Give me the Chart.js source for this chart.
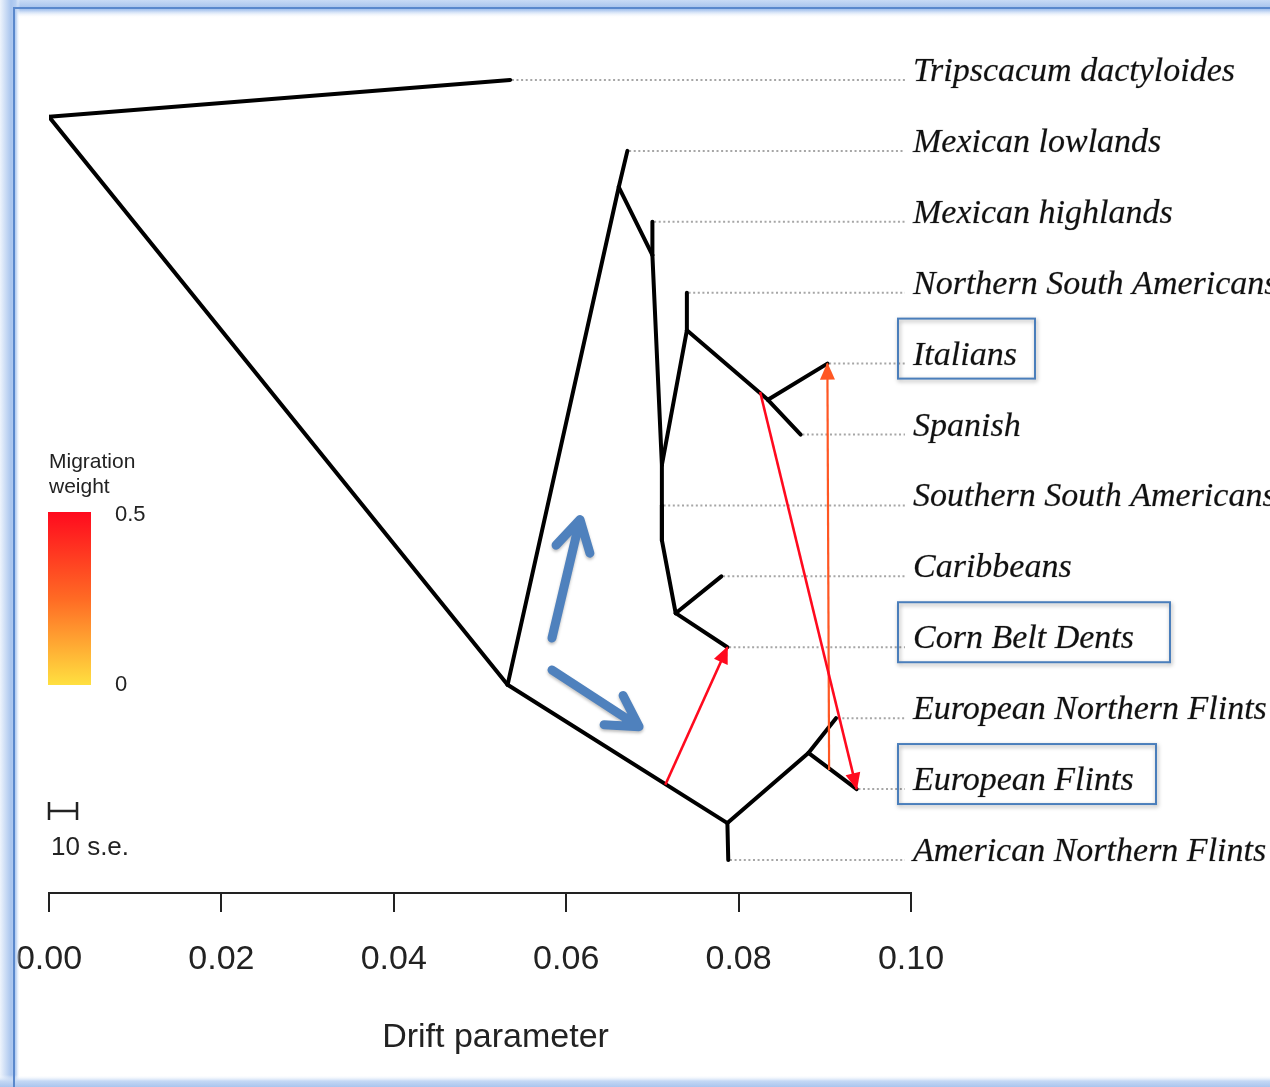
<!DOCTYPE html>
<html>
<head>
<meta charset="utf-8">
<title>TreeMix drift tree</title>
<script src="https://cdn.jsdelivr.net/npm/chart.js@4.4.1/dist/chart.umd.min.js"></script>
<style>
  html, body { margin: 0; padding: 0; background: #fff; }
  #wrap { width: 1270px; height: 1087px; position: relative; }
</style>
</head>
<body>
<div id="wrap"><canvas id="tree" width="1270" height="1087"></canvas></div>
<script>
// leaves, top to bottom; the row index is the vertical position in the tree
const leafNames = [
    'Tripscacum dactyloides', 'Mexican lowlands', 'Mexican highlands',
    'Northern South Americans', 'Italians', 'Spanish', 'Southern South Americans',
    'Caribbeans', 'Corn Belt Dents', 'European Northern Flints',
    'European Flints', 'American Northern Flints'
];
const leafDrift = [0.0535, 0.0671, 0.0700, 0.0740, 0.0903, 0.0872, 0.0711, 0.0780, 0.0787, 0.0913, 0.0937, 0.0788];

// internal nodes (drift from root, row position)
const nodeNames = ['root', 'A', 'B', 'C', 'D', 'E', 'F', 'G', 'H', 'I', 'J'];
const nodeDrift = [0.0000, 0.0532, 0.0661, 0.0700, 0.0711, 0.0740, 0.0834, 0.0711, 0.0727, 0.0787, 0.0881];
const nodeRow   = [0.52,   8.53,   1.51,   2.47,   5.43,   3.53,   4.51,   6.49,   7.52,   10.48,  9.49];

// tree edges, parent -> child
const edgeFrom = ['root', 'root', 'A', 'B', 'B', 'C', 'C', 'D', 'E', 'E', 'F', 'F', 'D', 'G', 'G', 'H', 'H', 'A', 'I', 'I', 'J', 'J'];
const edgeTo = ['Tripscacum dactyloides', 'A', 'B', 'Mexican lowlands', 'C', 'Mexican highlands', 'D',
    'E', 'Northern South Americans', 'F', 'Italians', 'Spanish', 'G', 'Southern South Americans', 'H',
    'Caribbeans', 'Corn Belt Dents', 'I', 'American Northern Flints', 'J', 'European Northern Flints', 'European Flints'];

// migration edges: start point on an edge -> target leaf, with weight
const migFromDrift = [0.0715, 0.0825, 0.0905];
const migFromRow = [9.94, 4.40, 9.73];
const migTo = ['Corn Belt Dents', 'European Flints', 'Italians'];
const migWeight = [0.5, 0.5, 0.3];

// x axis
const xTicks = [0, 0.02, 0.04, 0.06, 0.08, 0.10];
const xTitle = 'Drift parameter';
const dotEnd = 0.0993;

// highlighted populations (blue boxes)
const boxed = ['Italians', 'Corn Belt Dents', 'European Flints'];
const boxWidth = [137, 272, 258];

// hand drawn blue arrows (drift, row)
const blueFrom = [[0.05835, 7.87], [0.05835, 8.32]];
const blueTo = [[0.0616, 6.20], [0.06845, 9.12]];

const scaleBarDrift = 0.00325; // 10 s.e.

const pos = {};
leafNames.forEach((n, i) => pos[n] = {x: leafDrift[i], y: i});
nodeNames.forEach((n, i) => pos[n] = {x: nodeDrift[i], y: nodeRow[i]});

// weight -> colour, same ramp as the legend bar
function weightColor(w) {
    const stops = [[0, [255, 224, 64]], [0.25, [255, 106, 36]], [0.5, [255, 10, 30]]];
    for (let i = 1; i < stops.length; i++) {
        if (w <= stops[i][0]) {
            const t = (w - stops[i - 1][0]) / (stops[i][0] - stops[i - 1][0]);
            const c = stops[i - 1][1].map((v, k) => Math.round(v + (stops[i][1][k] - v) * t));
            return `rgb(${c[0]},${c[1]},${c[2]})`;
        }
    }
    return 'rgb(255,10,30)';
}

const datasets = [];

// dotted leaders to the labels
leafNames.forEach((n, i) => {
    datasets.push({
        data: [{x: leafDrift[i] + 0.0002, y: i}, {x: dotEnd, y: i}],
        borderColor: '#a6a6a6', borderWidth: 2, borderDash: [2, 2.6],
        showLine: true, pointRadius: 0, order: 3
    });
});

// tree branches
edgeFrom.forEach((p, i) => {
    datasets.push({
        data: [pos[p], pos[edgeTo[i]]],
        borderColor: '#000', borderWidth: 4, borderCapStyle: 'round',
        showLine: true, pointRadius: 0, order: 2
    });
});

// migration edges
migTo.forEach((t, i) => {
    datasets.push({
        data: [{x: migFromDrift[i], y: migFromRow[i]}, pos[t]],
        borderColor: weightColor(migWeight[i]), borderWidth: migWeight[i] >= 0.5 ? 2.6 : 2.2,
        showLine: true, pointRadius: 0, order: 1
    });
});

function arrowHead(ctx, x0, y0, x1, y1, len, half, color) {
    const a = Math.atan2(y1 - y0, x1 - x0);
    ctx.save();
    ctx.translate(x1, y1);
    ctx.rotate(a);
    ctx.beginPath();
    ctx.moveTo(1, 0);
    ctx.lineTo(-len, -half);
    ctx.lineTo(-len, half);
    ctx.closePath();
    ctx.fillStyle = color;
    ctx.fill();
    ctx.restore();
}

const treeDecor = {
    id: 'treeDecor',
    afterDatasetsDraw(chart) {
        const {ctx, scales: {x, y}} = chart;

        // arrow heads on migration edges
        migTo.forEach((t, i) => {
            arrowHead(ctx,
                x.getPixelForValue(migFromDrift[i]), y.getPixelForValue(migFromRow[i]),
                x.getPixelForValue(pos[t].x), y.getPixelForValue(pos[t].y),
                16, 7.5, weightColor(migWeight[i]));
        });

        // leaf labels
        const lx = x.getPixelForValue(0.1) + 2;
        ctx.save();
        ctx.font = 'italic 34px "Liberation Serif", "DejaVu Serif", serif';
        ctx.textBaseline = 'alphabetic';
        ctx.textAlign = 'left';
        ctx.fillStyle = '#111';
        ctx.strokeStyle = 'rgba(17,17,17,0.35)';
        ctx.lineWidth = 0.6;
        leafNames.forEach((n, i) => {
            const ty = y.getPixelForValue(i) + 1;
            ctx.fillText(n, lx, ty);
            ctx.strokeText(n, lx, ty);
        });
        ctx.restore();

        // blue boxes round highlighted labels
        ctx.save();
        ctx.strokeStyle = '#4a7ebb';
        ctx.lineWidth = 2;
        ctx.shadowColor = 'rgba(0,0,0,0.35)';
        ctx.shadowBlur = 4;
        ctx.shadowOffsetX = 1;
        ctx.shadowOffsetY = 2;
        boxed.forEach((n, i) => {
            const ly = y.getPixelForValue(leafNames.indexOf(n));
            ctx.strokeRect(lx - 15, ly - 45, boxWidth[i], 60);
        });
        ctx.restore();

        // blue annotation arrows
        ctx.save();
        ctx.strokeStyle = '#4f81bd';
        ctx.lineWidth = 9;
        ctx.lineCap = 'round';
        ctx.lineJoin = 'round';
        ctx.shadowColor = 'rgba(0,0,0,0.25)';
        ctx.shadowBlur = 3;
        ctx.shadowOffsetY = 2;
        blueFrom.forEach((f, i) => {
            const x0 = x.getPixelForValue(f[0]), y0 = y.getPixelForValue(f[1]);
            const x1 = x.getPixelForValue(blueTo[i][0]), y1 = y.getPixelForValue(blueTo[i][1]);
            const a = Math.atan2(y1 - y0, x1 - x0);
            const arm = 35, spread = 0.52;
            ctx.beginPath();
            ctx.moveTo(x0, y0);
            ctx.lineTo(x1 - 4 * Math.cos(a), y1 - 4 * Math.sin(a));
            ctx.moveTo(x1 - arm * Math.cos(a - spread), y1 - arm * Math.sin(a - spread));
            ctx.lineTo(x1, y1);
            ctx.lineTo(x1 - arm * Math.cos(a + spread), y1 - arm * Math.sin(a + spread));
            ctx.stroke();
        });
        ctx.restore();

        // migration weight legend
        ctx.save();
        const grad = ctx.createLinearGradient(0, 512, 0, 685);
        grad.addColorStop(0, weightColor(0.5));
        grad.addColorStop(0.5, weightColor(0.25));
        grad.addColorStop(1, weightColor(0));
        ctx.fillStyle = grad;
        ctx.fillRect(48, 512, 43, 173);
        ctx.fillStyle = '#222';
        ctx.font = '21px "Liberation Sans", Arial, sans-serif';
        ctx.textBaseline = 'alphabetic';
        ctx.fillText('Migration', 49, 468);
        ctx.fillText('weight', 49, 493);
        ctx.font = '22px "Liberation Sans", Arial, sans-serif';
        ctx.textBaseline = 'middle';
        ctx.fillText('0.5', 115, 515);
        ctx.fillText('0', 115, 685);

        // scale bar
        const s0 = x.getPixelForValue(0), s1 = x.getPixelForValue(scaleBarDrift);
        ctx.strokeStyle = '#222';
        ctx.lineWidth = 2.5;
        ctx.beginPath();
        ctx.moveTo(s0, 811); ctx.lineTo(s1, 811);
        ctx.moveTo(s0, 802); ctx.lineTo(s0, 820);
        ctx.moveTo(s1, 802); ctx.lineTo(s1, 820);
        ctx.stroke();
        ctx.font = '26px "Liberation Sans", Arial, sans-serif';
        ctx.textBaseline = 'alphabetic';
        ctx.fillText('10 s.e.', 51, 855);

        // axis title (R centres it on the full plot region, a bit right of the axis middle)
        ctx.font = '34px "Liberation Sans", Arial, sans-serif';
        ctx.textAlign = 'center';
        ctx.textBaseline = 'middle';
        ctx.fillText(xTitle, x.getPixelForValue(0.0518), 1038);
        ctx.restore();
    },
    afterDraw(chart) {
        // window frame of the screenshot
        const {ctx} = chart;
        const W = chart.width, H = chart.height;
        ctx.save();
        let g = ctx.createLinearGradient(0, 0, 0, 18);
        g.addColorStop(0, '#c9dbf5');
        g.addColorStop(0.4, '#a9c5ee');
        g.addColorStop(0.55, '#a9c5ee');
        g.addColorStop(1, 'rgba(255,255,255,0)');
        ctx.fillStyle = g;
        ctx.fillRect(0, 0, W, 18);
        g = ctx.createLinearGradient(0, 0, 20, 0);
        g.addColorStop(0, '#eef4fc');
        g.addColorStop(0.55, '#a9c5ee');
        g.addColorStop(0.8, '#b8d0f2');
        g.addColorStop(1, 'rgba(255,255,255,0)');
        ctx.fillStyle = g;
        ctx.fillRect(0, 0, 20, H);
        g = ctx.createLinearGradient(0, H - 12, 0, H);
        g.addColorStop(0, 'rgba(255,255,255,0)');
        g.addColorStop(0.5, '#c4d8f4');
        g.addColorStop(1, '#a9c5ee');
        ctx.fillStyle = g;
        ctx.fillRect(0, H - 12, W, 12);
        ctx.fillStyle = '#5a88cc';
        ctx.fillRect(13, 7, W - 13, 2);
        ctx.fillRect(13, 7, 2, H - 7);
        ctx.restore();
    }
};

new Chart(document.getElementById('tree'), {
    type: 'scatter',
    data: {datasets: datasets},
    options: {
        responsive: false,
        animation: false,
        layout: {padding: {left: 49, right: 359, top: 0, bottom: 0}},
        elements: {line: {tension: 0}},
        plugins: {legend: {display: false}, tooltip: {enabled: false}},
        scales: {
            x: {
                type: 'linear',
                min: 0,
                max: 0.1,
                afterFit: (scale) => {
                    scale.height = 194;
                    // keep the edge labels from pushing the plot area inward
                    scale.paddingLeft = 0;
                    scale.paddingRight = 0;
                },
                afterBuildTicks: (scale) => { scale.ticks = xTicks.map(v => ({value: v})); },
                grid: {drawOnChartArea: false, drawTicks: true, tickLength: 19, color: '#222', lineWidth: 2},
                border: {display: true, color: '#222', width: 2},
                ticks: {
                    color: '#222',
                    padding: 27,
                    maxRotation: 0,
                    font: {family: '"Liberation Sans", Arial, sans-serif', size: 34},
                    callback: (v) => Number(v).toFixed(2)
                },
                title: {display: false}
            },
            y: {
                type: 'linear',
                reverse: true,
                min: -1.128,
                max: 11.466,
                display: false
            }
        }
    },
    plugins: [treeDecor]
});
</script>
</body>
</html>
